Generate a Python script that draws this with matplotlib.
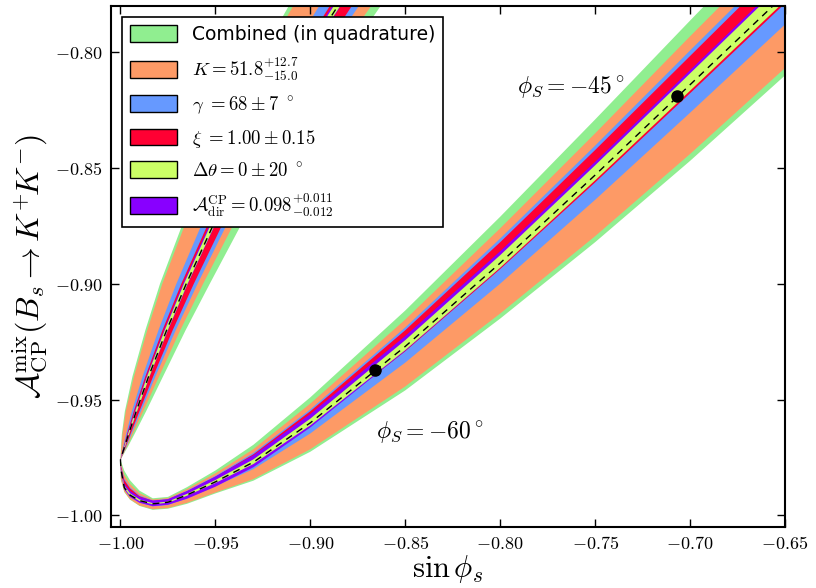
import numpy as np
import matplotlib
matplotlib.use("Agg")
import matplotlib.pyplot as plt
from matplotlib.patches import Polygon, Patch
from matplotlib.ticker import FuncFormatter

plt.rcParams['mathtext.fontset'] = 'cm'

# tip of the curve (sin phi_s = -1)
tip = (-1.0, -0.976)

# lower branch: x positions, centre line, vertical offsets of each band edge
low_x = [-0.9998, -0.998, -0.995, -0.99, -0.983, -0.975, -0.965, -0.95, -0.93, -0.90, -0.85, -0.80, -0.75, -0.70, -0.65]
low_c = [-0.980, -0.988, -0.9912, -0.9936, -0.995, -0.9943, -0.9912, -0.9855, -0.977, -0.960, -0.927, -0.891, -0.853, -0.814, -0.775]

green_hi = [0.0035, 0.0073, 0.0064, 0.0043, 0.0024, 0.0023, 0.0034, 0.0049, 0.0075, 0.011, 0.0155, 0.020, 0.024, 0.0277, 0.031]
green_lo = [-0.0046, -0.0019, -0.002, -0.0023, -0.0026, -0.0028, -0.0038, -0.005, -0.008, -0.0125, -0.019, -0.024, -0.029, -0.0329, -0.035]
orange_hi = [0.0026, 0.0055, 0.0048, 0.0032, 0.0019, 0.0018, 0.0026, 0.0037, 0.0056, 0.0083, 0.0116, 0.015, 0.018, 0.0209, 0.023]
orange_lo = [-0.0042, -0.0017, -0.0018, -0.0021, -0.0023, -0.0025, -0.0034, -0.0046, -0.0073, -0.0114, -0.0173, -0.0218, -0.0264, -0.0299, -0.0318]
blue_hi = [0.0019, 0.0039, 0.0034, 0.0023, 0.0015, 0.0014, 0.0019, 0.0026, 0.004, 0.0058, 0.0082, 0.0106, 0.0127, 0.0148, 0.0164]
blue_lo = [-0.0017, -0.0007, -0.0008, -0.0009, -0.0011, -0.0012, -0.0015, -0.0019, -0.003, -0.0046, -0.007, -0.0089, -0.0107, -0.0121, -0.013]
red_hi = [0.0016, 0.0033, 0.0029, 0.0019, 0.0013, 0.0012, 0.0016, 0.0022, 0.0034, 0.005, 0.007, 0.009, 0.0108, 0.0124, 0.014]
red_lo = [-0.0005, -0.0002, -0.0002, -0.0003, -0.0003, -0.0003, -0.0004, -0.0006, -0.0009, -0.0014, -0.0021, -0.0026, -0.0032, -0.0037, -0.0039]
purple_hi = [0.001, 0.0018, 0.0018, 0.0016, 0.0014, 0.0013, 0.0017, 0.0023, 0.003, 0.0038, 0.0045, 0.0051, 0.0057, 0.0063, 0.0068]
purple_lo = [-0.0005, -0.0007, -0.0008, -0.0009, -0.001, -0.0011, -0.0016, -0.0021, -0.0022, -0.002, -0.0019, -0.002, -0.002, -0.002, -0.002]
yg_hi = [0.0004, 0.0008, 0.0008, 0.0005, 0.0003, 0.0003, 0.0005, 0.0008, 0.0012, 0.0018, 0.0027, 0.0034, 0.0042, 0.0049, 0.0055]
yg_lo = [-0.0003, -0.0002, -0.0002, -0.0002, -0.0002, -0.0002, -0.0003, -0.0005, -0.0008, -0.0011, -0.0016, -0.002, -0.0023, -0.0026, -0.0028]

# upper branch: y positions, centre line, horizontal offsets (left = outer, right = inner)
up_y = [-0.9735, -0.970, -0.965, -0.955, -0.94, -0.92, -0.90, -0.875, -0.85, -0.82, -0.80, -0.77]
up_c = [-0.9991, -0.9977, -0.9958, -0.9917, -0.9852, -0.9757, -0.9654, -0.9514, -0.936, -0.9157, -0.9012, -0.8777]

green_l = [-0.0008, -0.002, -0.0035, -0.006, -0.0085, -0.0112, -0.0138, -0.0163, -0.0187, -0.0218, -0.024, -0.0268]
green_r = [0.0008, 0.0018, 0.0031, 0.0052, 0.0076, 0.010, 0.0124, 0.0146, 0.0168, 0.0195, 0.0213, 0.0232]
orange_l = [-0.0007, -0.0018, -0.0032, -0.0055, -0.0077, -0.0102, -0.0126, -0.0149, -0.017, -0.0198, -0.0218, -0.0244]
orange_r = [0.0006, 0.0013, 0.0022, 0.0037, 0.0055, 0.0072, 0.0089, 0.0105, 0.0121, 0.0142, 0.0158, 0.0185]
blue_l = [-0.0003, -0.0008, -0.0013, -0.0023, -0.0032, -0.0043, -0.0052, -0.0062, -0.0071, -0.0083, -0.0091, -0.0102]
blue_r = [0.0004, 0.0009, 0.0015, 0.0025, 0.0036, 0.0048, 0.006, 0.007, 0.0081, 0.0094, 0.0102, 0.0115]
red_l = [-0.0002, -0.0005, -0.0008, -0.0013, -0.0017, -0.0022, -0.0026, -0.003, -0.0033, -0.0037, -0.004, -0.0043]
red_r = [0.0003, 0.0006, 0.001, 0.0017, 0.0024, 0.0032, 0.004, 0.0047, 0.0054, 0.0062, 0.0068, 0.0077]
purple_l = [-0.0002, -0.0004, -0.0005, -0.0008, -0.0011, -0.0014, -0.0017, -0.002, -0.0023, -0.0026, -0.0028, -0.0031]
purple_r = [0.0001, 0.0002, 0.0003, 0.0005, 0.0006, 0.0008, 0.0009, 0.001, 0.0011, 0.0013, 0.0014, 0.0016]
yg_l = [-0.0001, -0.0002, -0.0003, -0.0005, -0.0008, -0.001, -0.0012, -0.0014, -0.0016, -0.0018, -0.002, -0.0022]
yg_r = [0.0001, 0.0002, 0.0003, 0.0004, 0.0005, 0.0006, 0.0007, 0.0008, 0.0009, 0.001, 0.0011, 0.0013]

# the two marked points on the central curve
mark_x = [-0.866, -0.707]
mark_y = [-0.937, -0.819]

bands = [
    ("Combined (in quadrature)", "#90ee90", green_hi, green_lo, green_l, green_r),
    (r"$K = 51.8^{+12.7}_{-15.0}$", "#fd9a66", orange_hi, orange_lo, orange_l, orange_r),
    (r"$\gamma\ = 68 \pm 7\ ^\circ$", "#6699ff", blue_hi, blue_lo, blue_l, blue_r),
    (r"$\xi\ = 1.00 \pm 0.15$", "#ff0033", red_hi, red_lo, red_l, red_r),
    (r"$\mathcal{A}_{\rm dir}^{\rm CP} = 0.098^{+0.011}_{-0.012}$", "#8800ff", purple_hi, purple_lo, purple_l, purple_r),
    (r"$\Delta\theta = 0 \pm 20\ ^\circ$", "#ccff66", yg_hi, yg_lo, yg_l, yg_r),
]


def band_outline(hi, lo, left, right):
    lx, lc, uy, uc = map(np.array, (low_x, low_c, up_y, up_c))
    outer_up = np.column_stack([uc + np.array(left), uy])[::-1]
    outer_low = np.column_stack([lx, lc + np.array(lo)])
    inner_low = np.column_stack([lx, lc + np.array(hi)])[::-1]
    inner_up = np.column_stack([uc + np.array(right), uy])
    t = np.array([tip])
    return np.vstack([outer_up, t, outer_low, inner_low, t, inner_up])


fig = plt.figure(figsize=(8.16, 5.88), dpi=100)
ax = fig.add_axes([111 / 816, 1 - 527 / 588, 674 / 816, 521 / 588])

handles = {}
for label, color, hi, lo, left, right in bands:
    ax.add_patch(Polygon(band_outline(hi, lo, left, right), closed=True,
                         facecolor=color, edgecolor='none'))
    handles[label] = Patch(facecolor=color, edgecolor='black', label=label)

cx = list(reversed(up_c)) + [tip[0]] + low_x
cy = list(reversed(up_y)) + [tip[1]] + low_c
ax.plot(cx, cy, color='black', lw=1.0, ls=(0, (5, 4)))
ax.plot(mark_x, mark_y, 'o', color='black', ms=8)

ax.text(-0.763, -0.8148, r"$\phi_S = -45^\circ$", fontsize=17, ha='center', va='center')
ax.text(-0.837, -0.964, r"$\phi_S = -60^\circ$", fontsize=17, ha='center', va='center')

ax.set_xlim(-1.005, -0.65)
ax.set_ylim(-1.005, -0.78)
ax.set_xticks(np.arange(-1.0, -0.649, 0.05))
ax.set_yticks([-1.0, -0.95, -0.90, -0.85, -0.80])
fmt = FuncFormatter(lambda v, p: r"$%.2f$" % v)
ax.xaxis.set_major_formatter(fmt)
ax.yaxis.set_major_formatter(fmt)
ax.tick_params(direction='in', top=True, right=True, length=6, width=1, labelsize=13, pad=6)
for s in ax.spines.values():
    s.set_linewidth(1.5)

ax.set_xlabel(r"$\sin\phi_s$", fontsize=22, labelpad=0)
ax.set_ylabel(r"$\mathcal{A}_{\rm CP}^{\rm mix}(B_s \to K^{+}\!K^{-})$", fontsize=23, labelpad=4)

order = ["Combined (in quadrature)", r"$K = 51.8^{+12.7}_{-15.0}$", r"$\gamma\ = 68 \pm 7\ ^\circ$",
         r"$\xi\ = 1.00 \pm 0.15$", r"$\Delta\theta = 0 \pm 20\ ^\circ$",
         r"$\mathcal{A}_{\rm dir}^{\rm CP} = 0.098^{+0.011}_{-0.012}$"]
leg = ax.legend(handles=[handles[k] for k in order], loc='upper left', fontsize=13.5,
                fancybox=False, framealpha=1, edgecolor='black', handlelength=2.5,
                handleheight=1.0, labelspacing=0.62, borderaxespad=0.6)
leg.get_frame().set_linewidth(1.2)

fig.savefig("out.png", dpi=100)
